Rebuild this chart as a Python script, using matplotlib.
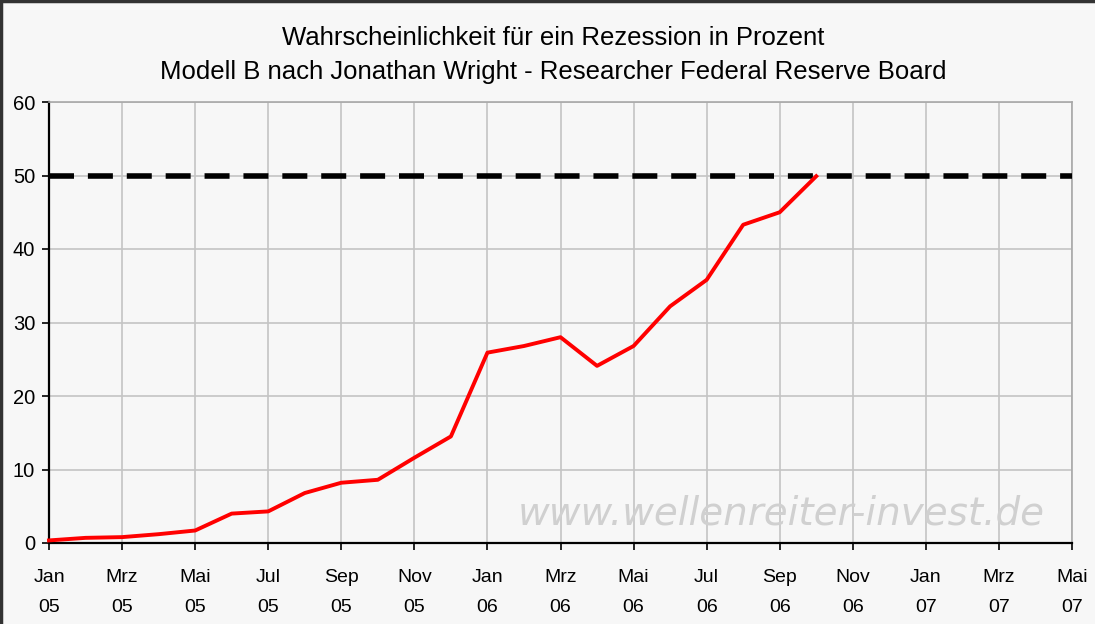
import matplotlib
matplotlib.use("Agg")
import matplotlib.pyplot as plt
from matplotlib.lines import Line2D

# ---- data ----
tick_labels = ["Jan\n05", "Mrz\n05", "Mai\n05", "Jul\n05", "Sep\n05", "Nov\n05",
               "Jan\n06", "Mrz\n06", "Mai\n06", "Jul\n06", "Sep\n06", "Nov\n06",
               "Jan\n07", "Mrz\n07", "Mai\n07"]
months = list(range(22))  # Jan 05 .. Okt 06 (month index)
probability = [0.35, 0.7, 0.8, 1.2, 1.7, 4.0, 4.3, 6.8, 8.2, 8.6, 11.6, 14.5,
               25.9, 26.8, 28.0, 24.1, 26.8, 32.2, 35.8, 43.3, 45.0, 49.9]
threshold = 50
title_lines = ["Wahrscheinlichkeit für ein Rezession in Prozent",
               "Modell B nach Jonathan Wright - Researcher Federal Reserve Board"]
watermark = "www.wellenreiter-invest.de"

bg = "#f7f7f7"
fig = plt.figure(figsize=(10.95, 6.24), dpi=100, facecolor=bg)
ax = fig.add_axes([49/1095, 81/624, (1072-49)/1095, (543-102)/624], facecolor=bg)

ax.set_xlim(0, 28)
ax.set_ylim(0, 60)
ax.set_xticks(range(0, 29, 2))
ax.set_xticklabels(tick_labels, fontsize=14, family="Liberation Sans", linespacing=1.95)
ax.set_yticks(range(0, 61, 10))
ax.set_yticklabels([str(v) for v in range(0, 61, 10)], fontsize=14.5, family="Liberation Sans")
ax.tick_params(axis="x", direction="out", length=5, width=1.2, color="black", pad=14)
ax.tick_params(axis="y", direction="out", length=5, width=1.2, color="black", pad=5)

ax.grid(True, color="#c4c4c4", linewidth=1.2)
ax.set_axisbelow(True)
for s in ["left", "bottom"]:
    ax.spines[s].set_color("black")
    ax.spines[s].set_linewidth(1.6)
for s in ["top", "right"]:
    ax.spines[s].set_color("#a8a8a8")
    ax.spines[s].set_linewidth(1.2)

ax.axhline(threshold, color="black", linewidth=4, linestyle=(0, (4.5, 2.5)), zorder=3)
ax.plot(months, probability, color="#ff0000", linewidth=2.8, zorder=4, clip_on=False)

ax.text(0.716, 0.068, watermark, transform=ax.transAxes, ha="center", va="center",
        fontsize=28, style="italic", color="#d0d0d0", family="DejaVu Sans", zorder=2)

fig.text(553/1095, 1 - 38/624, title_lines[0], ha="center", va="center",
         fontsize=18.5, family="Liberation Sans")
fig.text(553/1095, 1 - 72/624, title_lines[1], ha="center", va="center",
         fontsize=18.5, family="Liberation Sans")

# figure frame (left and top edges)
fig.add_artist(Line2D([0.001, 0.001], [0, 1], transform=fig.transFigure, color="#333333", linewidth=2.5))
fig.add_artist(Line2D([0, 1], [0.998, 0.998], transform=fig.transFigure, color="#333333", linewidth=2.5))

fig.savefig("out.png", dpi=100, facecolor=bg)
